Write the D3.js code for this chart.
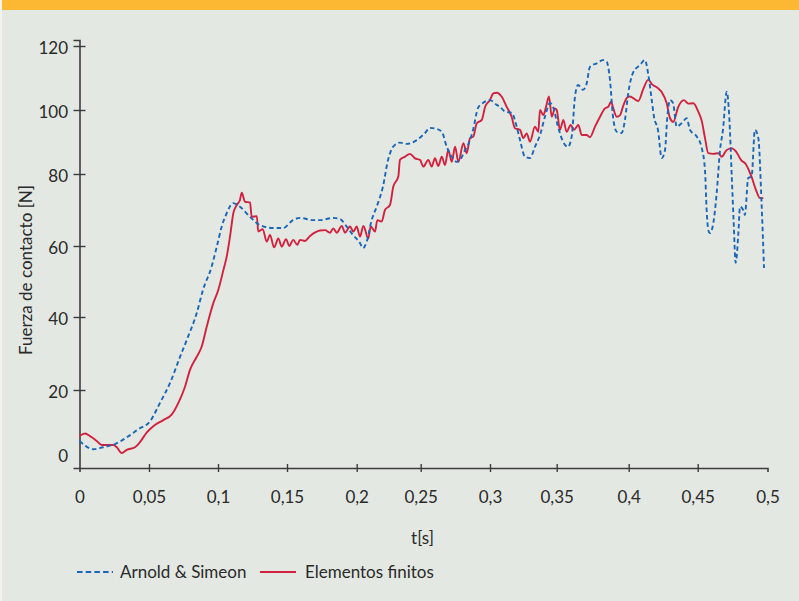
<!DOCTYPE html>
<html>
<head>
<meta charset="utf-8">
<script src="https://cdn.jsdelivr.net/npm/d3@7/dist/d3.min.js"></script>
<style>
  html, body { margin: 0; padding: 0; background: #e3e8e2; }
  svg { display: block; }
  text { font-family: Lato, "Noto Sans", sans-serif; fill: #2a2a2a; }
</style>
</head>
<body>
<svg id="chart" width="799" height="601"></svg>
<script>
// Contact force over time: analytic model vs finite-element simulation
const xTicks = [0, 0.05, 0.1, 0.15, 0.2, 0.25, 0.3, 0.35, 0.4, 0.45, 0.5];
const xTickLabels = ["0", "0,05", "0,1", "0,15", "0,2", "0,25", "0,3", "0,35", "0,4", "0,45", "0,5"];
const yTicks = [0, 20, 40, 60, 80, 100, 120];
const yTickLabels = ["0", "20", "40", "60", "80", "100", "120"];

const seriesNames = ["Arnold & Simeon", "Elementos finitos"];

// Arnold & Simeon: [t (s), force (N)]
const arnoldSimeon = [
  [0.000, 4.1], [0.010, 1.5], [0.0169, 2.1], [0.0255, 3.1], [0.034, 5.2], [0.0421, 7.7],
  [0.0507, 10.2], [0.058, 16.0], [0.0652, 21.9], [0.0725, 29.1], [0.0783, 34.6], [0.0846, 41.1],
  [0.0891, 47.6], [0.0954, 54.2], [0.0991, 59.8], [0.1027, 65.4], [0.1063, 69.1], [0.1109, 71.9],
  [0.1159, 70.9], [0.1232, 68.1], [0.1304, 65.8], [0.1399, 65.0], [0.1471, 65.0], [0.1543, 67.2],
  [0.1593, 67.8], [0.1687, 67.2], [0.1737, 67.2], [0.1830, 67.8], [0.1880, 67.5], [0.1928, 65.4],
  [0.1973, 63.1], [0.2026, 60.8], [0.2049, 59.4], [0.2078, 61.2], [0.2117, 67.2], [0.2156, 70.9],
  [0.2205, 76.5], [0.2245, 84.4], [0.2284, 88.5], [0.2338, 89.8], [0.2391, 89.4], [0.2469, 90.6],
  [0.2531, 92.8], [0.2567, 94.4], [0.2615, 94.1], [0.2652, 93.2], [0.2688, 88.5], [0.2724, 85.4],
  [0.2760, 83.8], [0.2784, 84.4], [0.2820, 87.5], [0.2842, 89.1], [0.2878, 93.8], [0.2913, 100.6],
  [0.2949, 102.2], [0.3000, 103.1], [0.3050, 101.6], [0.3075, 101.0], [0.3112, 99.5], [0.3163, 99.1],
  [0.3200, 94.8], [0.3225, 90.6], [0.3262, 85.4], [0.3300, 85.0], [0.3337, 88.5], [0.3375, 92.2],
  [0.3412, 97.9], [0.3450, 102.2], [0.3472, 101.0], [0.3509, 94.8], [0.3544, 90.1], [0.3578, 88.5],
  [0.3604, 91.7], [0.3627, 104.2], [0.3648, 107.8], [0.3683, 106.3], [0.3708, 108.3], [0.3731, 113.5],
  [0.3778, 114.6], [0.3822, 115.6], [0.3847, 115.1], [0.3870, 109.4], [0.3891, 97.9], [0.3917, 93.2],
  [0.3951, 92.8], [0.3974, 96.9], [0.3997, 105.3], [0.4031, 111.6], [0.4082, 114.1], [0.4118, 115.6],
  [0.4140, 111.6], [0.4167, 103.1], [0.4183, 97.9], [0.4212, 93.8], [0.4239, 85.0], [0.4263, 87.5],
  [0.4280, 97.9], [0.4299, 103.1], [0.4321, 102.2], [0.4348, 94.8], [0.4384, 95.9], [0.4420, 97.4],
  [0.4444, 93.8], [0.4493, 91.7], [0.4529, 88.1], [0.4552, 81.3], [0.4564, 70.0], [0.4576, 64.4],
  [0.4588, 63.6], [0.4612, 66.4], [0.4636, 74.7], [0.4660, 87.5], [0.4681, 93.8], [0.4708, 105.7],
  [0.4726, 97.9], [0.4744, 79.3], [0.4757, 67.2], [0.4772, 55.3], [0.4791, 63.3], [0.4803, 70.9],
  [0.4826, 70.0], [0.4838, 68.6], [0.4862, 78.9], [0.4886, 79.3], [0.4910, 93.8], [0.4934, 91.3],
  [0.4958, 71.4], [0.4975, 53.8]
];

// Elementos finitos: [t (s), force (N)]
const elementosFinitos = [
  [0.000, 5.6], [0.004, 6.4], [0.0076, 5.6], [0.0124, 4.1], [0.016, 2.8], [0.0243, 2.8],
  [0.0268, 2.1], [0.0304, 0.3], [0.034, 1.3], [0.0399, 2.1], [0.0435, 3.7], [0.0483, 6.7],
  [0.0531, 8.7], [0.0604, 10.6], [0.0664, 12.3], [0.0712, 15.9], [0.0761, 20.9], [0.0797, 25.5],
  [0.0846, 29.1], [0.0882, 31.9], [0.0918, 37.3], [0.0966, 43.9], [0.1002, 47.6], [0.1039, 53.2],
  [0.1063, 57.0], [0.1087, 62.6], [0.1111, 69.1], [0.1136, 71.4], [0.1159, 72.8], [0.1172, 74.8],
  [0.1196, 72.3], [0.1232, 72.1], [0.1244, 68.1], [0.1281, 68.3], [0.1292, 64.0], [0.1324, 64.7],
  [0.1353, 61.2], [0.1377, 63.1], [0.1406, 59.6], [0.1437, 62.1], [0.1462, 59.8], [0.1493, 61.9],
  [0.1516, 60.0], [0.1545, 61.7], [0.1574, 60.3], [0.1593, 61.7], [0.1629, 61.4], [0.1665, 62.8],
  [0.1713, 64.0], [0.1737, 64.3], [0.1773, 64.4], [0.1809, 63.7], [0.1832, 64.9], [0.1857, 63.7],
  [0.1893, 65.6], [0.1916, 63.7], [0.1952, 65.4], [0.1976, 64.0], [0.2000, 65.4], [0.2026, 62.6],
  [0.2052, 65.6], [0.2091, 62.1], [0.2109, 65.4], [0.2143, 64.0], [0.2161, 67.2], [0.2195, 66.8],
  [0.2221, 70.0], [0.2260, 71.4], [0.2286, 76.5], [0.2325, 79.3], [0.2338, 84.4], [0.2377, 85.4],
  [0.2416, 86.3], [0.2455, 84.9], [0.2495, 84.4], [0.2519, 82.3], [0.2555, 84.4], [0.2579, 82.3],
  [0.2603, 84.9], [0.2627, 82.5], [0.2652, 85.4], [0.2675, 82.8], [0.2699, 87.5], [0.2724, 83.8],
  [0.2748, 88.5], [0.2772, 83.8], [0.2808, 89.6], [0.2832, 86.5], [0.2856, 91.2], [0.2880, 91.7],
  [0.2904, 95.8], [0.2941, 96.9], [0.2965, 101.0], [0.3000, 103.1], [0.3025, 105.2], [0.3050, 105.4],
  [0.3087, 104.2], [0.3125, 101.0], [0.3162, 97.9], [0.3187, 94.3], [0.3225, 93.8], [0.3250, 91.2],
  [0.3275, 92.7], [0.3300, 90.1], [0.3337, 94.8], [0.3362, 93.2], [0.3375, 100.0], [0.3400, 98.4],
  [0.3420, 101.0], [0.3442, 104.2], [0.3463, 97.9], [0.3487, 100.5], [0.3500, 100.0], [0.3523, 93.8],
  [0.3546, 96.9], [0.3569, 93.2], [0.3597, 95.3], [0.3620, 93.8], [0.3650, 95.3], [0.3674, 92.2],
  [0.3708, 92.2], [0.3731, 91.5], [0.3766, 94.8], [0.3801, 97.9], [0.3835, 100.5], [0.3858, 101.0],
  [0.3877, 102.6], [0.3893, 100.5], [0.3917, 97.9], [0.3940, 98.4], [0.3962, 101.3], [0.3986, 103.7],
  [0.4009, 104.2], [0.4033, 103.7], [0.4069, 102.8], [0.4106, 106.6], [0.4142, 109.5], [0.4169, 108.0],
  [0.4203, 107.1], [0.4239, 105.6], [0.4275, 102.2], [0.4299, 97.5], [0.4323, 96.3], [0.4359, 101.0],
  [0.4400, 103.1], [0.4432, 102.0], [0.4468, 102.1], [0.4504, 99.5], [0.4529, 96.6], [0.4552, 91.3],
  [0.4576, 86.5], [0.4612, 86.3], [0.4648, 86.5], [0.4672, 85.4], [0.4708, 87.5], [0.4744, 88.0],
  [0.4775, 87.0], [0.4810, 84.4], [0.4846, 83.0], [0.4886, 79.2], [0.4922, 75.1], [0.4946, 73.3],
  [0.4970, 73.3]
];

const colors = { arnold: "#1a66b8", fem: "#d2213f", axis: "#3c3c3c" };

const svg = d3.select("#chart");
const W = 799, H = 601;

// page background, header band and thin left edge
svg.append("rect").attr("width", W).attr("height", H).attr("fill", "#e3e8e2");
svg.append("rect").attr("width", W).attr("height", 10).attr("fill", "#fdb833");
svg.append("rect").attr("width", 2).attr("height", H).attr("fill", "#f1f3ef");

// scales: the printed axes are not evenly spaced, so both use piecewise mappings
const x = d3.scaleLinear()
  .domain(xTicks)
  .range([79.5, 149, 218, 287, 356.7, 420.7, 490, 556.7, 628.7, 697.7, 767.5]);

const y = d3.scaleLinear()
  .domain([-4.4, 0, 20, 40, 60, 80, 100, 120, 122])
  .range([468, 454, 390, 317, 246, 174, 110, 46, 40]);

const baseY = y(-4.4);

// x axis
const gx = svg.append("g")
  .attr("transform", `translate(0,${baseY})`)
  .call(d3.axisBottom(x)
    .tickValues(xTicks)
    .tickSizeOuter(0)
    .tickSize(4)
    .tickFormat((d, i) => xTickLabels[i]));
gx.select(".domain").attr("stroke", colors.axis).attr("stroke-width", 1.6);
gx.selectAll(".tick line")
  .attr("y1", -4).attr("y2", 4)
  .attr("stroke", colors.axis).attr("stroke-width", 1.4)
  .attr("display", (d, i) => (i === 0 || i === xTicks.length - 1) ? "none" : null);
gx.selectAll(".tick text")
  .attr("y", 23).attr("dy", "0.71em")
  .attr("font-size", 17).attr("fill", "#2a2a2a")
  .style("font-family", "Lato, 'Noto Sans', sans-serif");

// y axis
const gy = svg.append("g")
  .attr("transform", `translate(${x(0)},0)`)
  .call(d3.axisLeft(y)
    .tickValues(yTicks)
    .tickSizeOuter(0)
    .tickSize(6)
    .tickPadding(5.5)
    .tickFormat((d, i) => yTickLabels[i]));
gy.select(".domain").attr("stroke", colors.axis).attr("stroke-width", 1.6);
gy.selectAll(".tick line")
  .attr("x1", -6).attr("x2", 6)
  .attr("stroke", colors.axis).attr("stroke-width", 1.4)
  .attr("display", d => d === 0 ? "none" : null);
gy.selectAll(".tick text")
  .attr("dy", "0.45em")
  .attr("font-size", 17).attr("fill", "#2a2a2a")
  .style("font-family", "Lato, 'Noto Sans', sans-serif");

// axis titles
svg.append("text")
  .attr("x", (x(0) + x(0.5)) / 2 - 1)
  .attr("y", 544)
  .attr("text-anchor", "middle")
  .attr("font-size", 17)
  .text("t[s]");

svg.append("text")
  .attr("transform", `translate(32,${270}) rotate(-90)`)
  .attr("text-anchor", "middle")
  .attr("font-size", 17)
  .text("Fuerza de contacto [N]");

// curves
const line = d3.line()
  .x(d => x(d[0]))
  .y(d => y(d[1]))
  .curve(d3.curveMonotoneX);

svg.append("path")
  .datum(elementosFinitos)
  .attr("fill", "none")
  .attr("stroke", colors.fem)
  .attr("stroke-width", 1.9)
  .attr("stroke-linejoin", "round")
  .attr("d", line);

svg.append("path")
  .datum(arnoldSimeon)
  .attr("fill", "none")
  .attr("stroke", colors.arnold)
  .attr("stroke-width", 1.9)
  .attr("stroke-dasharray", "4.5,3")
  .attr("d", line);

// legend
const legend = svg.append("g").attr("transform", "translate(77,572)");
const items = [
  { name: seriesNames[0], color: colors.arnold, dash: "5.5,3.2", x0: 0, tx: 43 },
  { name: seriesNames[1], color: colors.fem, dash: null, x0: 183, tx: 228 }
];
items.forEach(it => {
  legend.append("line")
    .attr("x1", it.x0).attr("x2", it.x0 + 36)
    .attr("y1", 0).attr("y2", 0)
    .attr("stroke", it.color).attr("stroke-width", 2)
    .attr("stroke-dasharray", it.dash);
  legend.append("text")
    .attr("x", it.tx).attr("y", 6)
    .attr("font-size", 17)
    .text(it.name);
});
</script>
</body>
</html>
